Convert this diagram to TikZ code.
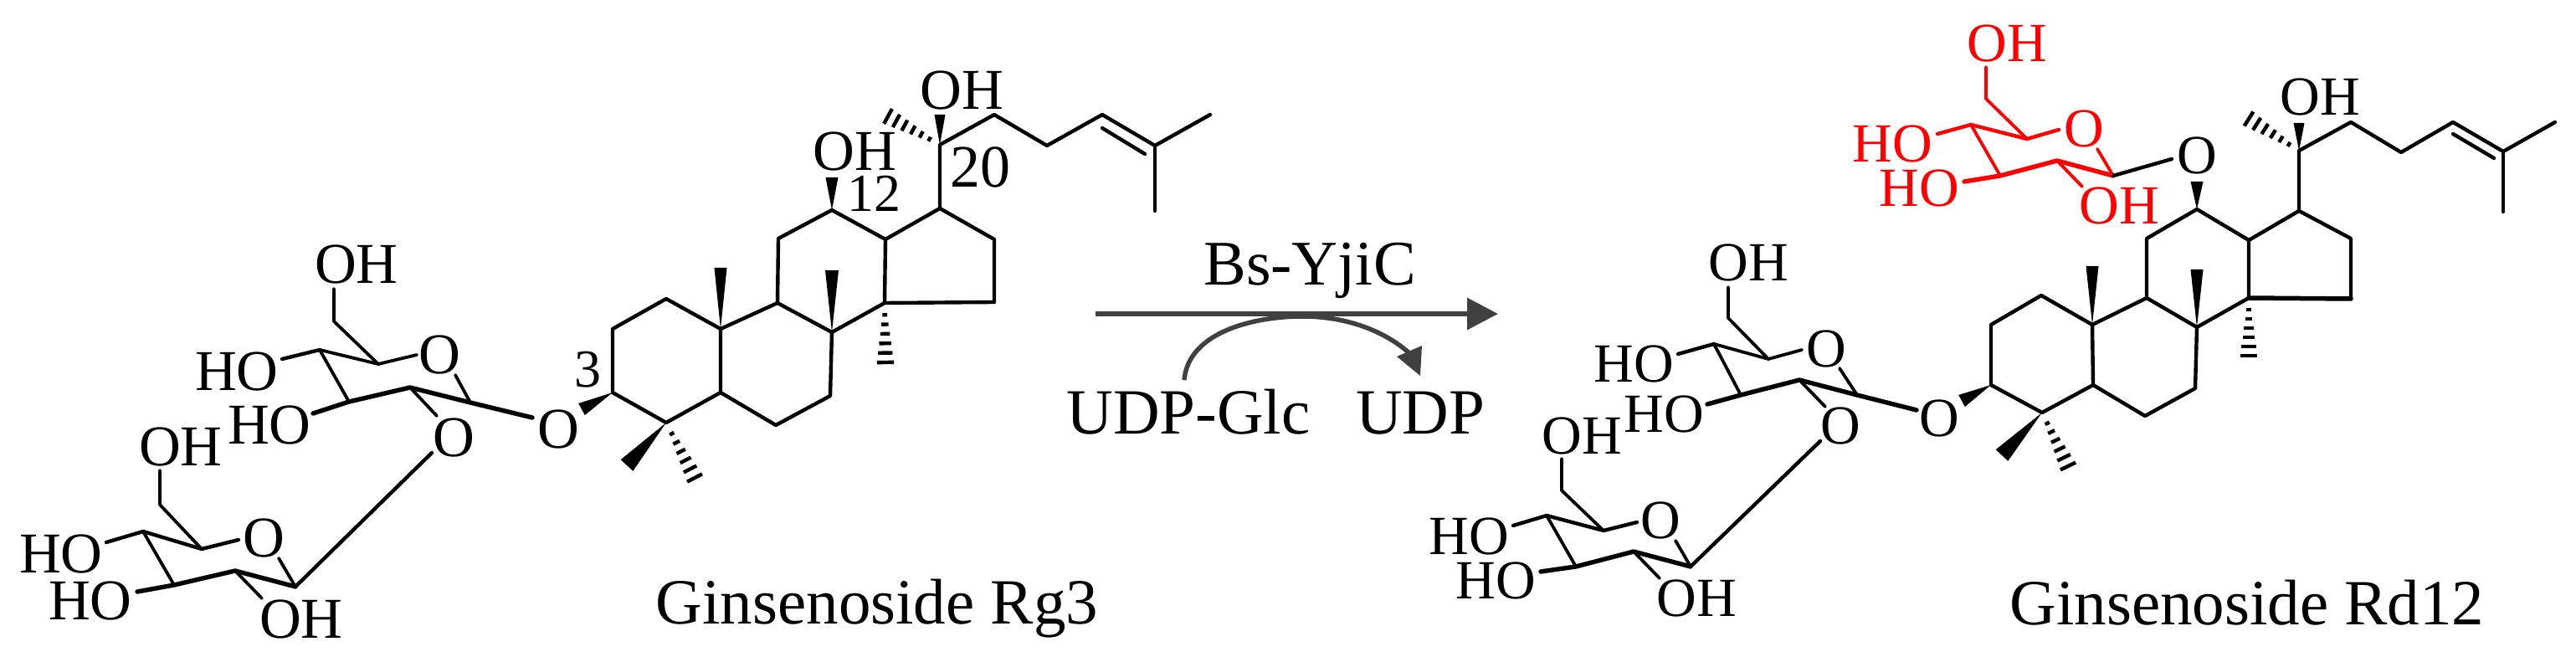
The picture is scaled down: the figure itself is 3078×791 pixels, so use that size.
\documentclass[tikz,border=0pt]{standalone}
\usepackage{fontspec}
\setmainfont{Liberation Serif}
\usetikzlibrary{calc,arrows.meta}
\definecolor{arrowgrey}{HTML}{404040}
\definecolor{sugarred}{HTML}{FF0000}
\tikzset{
  x=1pt,y=-1pt,
  bondline/.style={line width=4.4pt,line join=round,line cap=round},
  thinbond/.style={line width=3.8pt,line join=round,line cap=round},
  frontbond/.style={line width=5.4pt,line join=round,line cap=round},
  atomL/.style={anchor=base,inner sep=0pt,font=\fontsize{69}{80}\selectfont},
  atomR/.style={anchor=base,inner sep=0pt,font=\fontsize{66}{76}\selectfont},
  numlabel/.style={anchor=base,inner sep=0pt,font=\fontsize{64}{74}\selectfont},
  caption/.style={anchor=base,inner sep=0pt,font=\fontsize{77}{88}\selectfont},
  arrowline/.style={draw=arrowgrey,line width=6.5pt},
}
\newcommand{\wedgebond}[3]{\fill ($(#1)$) -- ($(#2)!#3!90:(#1)$) -- ($(#2)!#3!-90:(#1)$) -- cycle;}
\newcommand{\hashbond}[3]{%
  \foreach \t in {0.2,0.36,0.52,0.68,0.84,1.0}{%
    \pgfmathsetmacro{\halfw}{#3*(\t+0.12)}
    \coordinate (hp) at ($(#1)!\t!(#2)$);
    \draw[line width=4.4pt] ($(hp)!\halfw pt!90:(#1)$) -- ($(hp)!\halfw pt!-90:(#1)$);
  }}
\newcommand{\pts}[1]{\foreach \n/\xx/\yy in {#1}{\coordinate (\n) at (\xx,\yy);}}
\begin{document}
\begin{tikzpicture}
\useasboundingbox (0,0) rectangle (3078,791);

%% ---------- LEFT MOLECULE ----------
\pts{La/382/418,Lb/452/435,Lc/562/481,Ld/490/463,Le/417/480,Lf/399/384,Lg/399/345,
 LaH/337/429,LeH/374/494,LbO/498/424,LOc/544/448,LdO/522/497,LcO/636/499,
 Ma/171/635,Mb/241/656,Mc/353/701,Md/281/682,Me/208/699,Mf/191/603,Mg/191/562,
 MaH/127/648,MeH/164/707,MdH/313/715,MbO/285/645,MOc/333/667,MO2/516/541,
 C1/796/357,C2/732/393,C3/732/469,C4/796/505,C5/861/469,C6/927/508,C7/992/473,C8/994/397,
 C9/929/362,C10/861/393,C11/930/285,C12/994/251,C13/1058/286,C14/1057/362,C15/1188/361,
 C16/1188/286,C17/1123/249,C20/1123/173,C22/1188/137,C23/1251/174,C24/1317/137,C25/1380/174,
 C26/1446/137,C27/1380/252,Dbl1/1317/153,Dbl2/1368/184,
 W3/695/489,W4/749/556,H4/830/571,W10/861/320,W8/994/323,W12/994/212,H14/1058/433,
 W20/1123/137,H20/1061/139}

\node[atomL] (lo1) at (426,339) {OH};
\node[atomL] (lh1) at (283,466) {HO};
\node[atomL] (lh2) at (322,530) {HO};
\node[atomL] (lo2) at (525,446) {O};
\node[atomL] (lo3) at (542,545) {O};
\node[atomL] (lo4) at (667,535) {O};
\node[atomL] (lo5) at (216,556) {OH};
\node[atomL] (lh3) at (73,684) {HO};
\node[atomL] (lh4) at (108,740) {HO};
\node[atomL] (lo6) at (360,762) {OH};
\node[atomL] (lo7) at (315,665) {O};
\node[atomL] (lo8) at (1021,204) {OH};
\node[atomL] (lo9) at (1149,131) {OH};
\node[numlabel] (n3) at (702,462) {3};
\node[numlabel] (n12) at (1044,253) {12};
\node[numlabel,font=\fontsize{72}{80}\selectfont] (n20) at (1171,224) {20};

\draw[thinbond] (Lg) -- (Lf) -- (Lb);
\draw[thinbond] (La) -- (Lb) -- (LbO);
\draw[thinbond] (La) -- (Le);
\draw[bondline] (LaH) -- (La);
\draw[frontbond] (LeH) -- (Le) -- (Ld) -- (Lc) -- (LcO);
\draw[thinbond] (LOc) -- (Lc);
\draw[thinbond] (Ld) -- (LdO);

\draw[thinbond] (Mg) -- (Mf) -- (Mb);
\draw[bondline] (Ma) -- (Mb) -- (MbO);
\draw[thinbond] (Ma) -- (Me);
\draw[bondline] (MaH) -- (Ma);
\draw[frontbond] (MeH) -- (Me) -- (Md) -- (Mc);
\draw[thinbond] (MOc) -- (Mc);
\draw[thinbond] (Md) -- (MdH);
\draw[bondline] (Mc) -- (MO2);

\draw[bondline] (C3) -- (C2) -- (C1) -- (C10) -- (C5) -- (C4) -- (C3);
\draw[bondline] (C5) -- (C6) -- (C7) -- (C8) -- (C9) -- (C10);
\draw[bondline] (C9) -- (C11) -- (C12) -- (C13) -- (C14) -- (C8);
\draw[bondline] (C13) -- (C17) -- (C16) -- (C15) -- (C14);
\draw[bondline] (C17) -- (C20) -- (C22) -- (C23) -- (C24) -- (C25) -- (C26);
\draw[bondline] (C25) -- (C27);
\draw[bondline] (Dbl1) -- (Dbl2);

\wedgebond{C3}{W3}{8pt}
\wedgebond{C4}{W4}{10pt}
\hashbond{C4}{H4}{9}
\wedgebond{C10}{W10}{7.5pt}
\wedgebond{C8}{W8}{8pt}
\wedgebond{C12}{W12}{7.5pt}
\wedgebond{C20}{W20}{6.5pt}
\hashbond{C14}{H14}{9}
\hashbond{C20}{H20}{9}

%% ---------- ARROWS ----------
\pts{Ar1/1309/375,Ar2/1790/375,Cv1/1415/454,CvT/1556/378,Cc3/1610/378,Cc4/1655/396,Cv2/1684/422,
 Hd1/1699/413,Hd2/1669/426,Hd3/1697/449}
\draw[arrowline,-{Triangle[length=37pt,width=37pt]}] (Ar1) -- (Ar2);
\draw[draw=arrowgrey,line width=5.5pt] (Cv1) .. controls (1420,396) and (1500,378) .. (CvT) .. controls (Cc3) and (Cc4) .. (Cv2);
\fill[arrowgrey] (Hd1) -- (Hd2) -- (Hd3) -- cycle;
\node[caption,font=\fontsize{76}{88}\selectfont] (enz) at (1565,341) {Bs-YjiC};
\node[caption] (udpg) at (1420,518) {UDP-Glc};
\node[caption] (udp) at (1697,518) {UDP};
\node[caption] (rg3) at (1048,745) {Ginsenoside Rg3};
\node[caption] (rd12) at (2685,746) {Ginsenoside Rd12};

%% ---------- RIGHT MOLECULE ----------
\pts{Ra/2048/411,Rb/2113/429,Rc/2219/472,Rd/2150/454,Re/2080/472,Rf/2065/380,Rg/2065/343,
 RaH/2005/423,ReH/2040/483,RbO/2153/418,ROc/2198/440,RdO/2181/486,RcO/2290/490,
 Sa/1848/616,Sb/1916/634,Sc/2020/677,Sd/1952/659,Se/1883/677,Sf/1866/586,Sg/1866/548,
 SaH/1808/628,SeH/1841/683,SdH/1983/691,SbO/1956/624,SOc/2002/646,SO2/2175/527,
 Ta/2355/149,Tb/2422/166,Tc/2525/210,Td/2458/192,Te/2390/210,Tf/2373/118,Tg/2373/80,
 TaH/2315/160,TeH/2347/217,TbO/2460/155,TOc/2506/178,TdH/2488/223,TcO/2595/190,
 D1/2439/353,D2/2379/388,D3/2379/460,D4/2440/493,D5/2501/460,D6/2563/497,D7/2623/464,D8/2625/391,
 D9/2565/356,D10/2500/388,D11/2565/285,D12/2625/250,D13/2687/287,D14/2687/356,D15/2809/357,
 D16/2809/285,D17/2747/252,D20/2747/180,D22/2809/146,D23/2869/182,D24/2931/146,D25/2991/181,
 D26/3053/146,D27/2991/253,Dd1/2931/160,Dd2/2980/189,
 X3/2344/479,X4/2392/544,Y4/2471/557,X10/2500/318,X8/2625/322,X12/2625/217,Y14/2687/425,
 X20/2747/147,Y20/2687/142}

\node[atomR] (ro1) at (2089,336) {OH};
\node[atomR] (rh1) at (1952,456) {HO};
\node[atomR] (rh2) at (1988,516) {HO};
\node[atomR] (ro2) at (2182,438) {O};
\node[atomR] (ro3) at (2199,530) {O};
\node[atomR] (ro4) at (2317,521) {O};
\node[atomR] (ro5) at (1890,542) {OH};
\node[atomR] (rh3) at (1755,662) {HO};
\node[atomR] (rh4) at (1787,715) {HO};
\node[atomR] (ro6) at (2027,736) {OH};
\node[atomR] (ro7) at (1984,643) {O};
\node[atomR] (ro8) at (2625,208) {O};
\node[atomR] (ro9) at (2772,138) {OH};
\begin{scope}[sugarred]
\node[atomR] (tr1) at (2398,74) {OH};
\node[atomR] (tr2) at (2261,194) {HO};
\node[atomR] (tr3) at (2293,247) {HO};
\node[atomR] (tr4) at (2490,176) {O};
\node[atomR] (tr5) at (2532,268) {OH};
\end{scope}

\draw[thinbond] (Rg) -- (Rf) -- (Rb);
\draw[thinbond] (Ra) -- (Rb) -- (RbO);
\draw[thinbond] (Ra) -- (Re);
\draw[bondline] (RaH) -- (Ra);
\draw[frontbond] (ReH) -- (Re) -- (Rd) -- (Rc) -- (RcO);
\draw[thinbond] (ROc) -- (Rc);
\draw[thinbond] (Rd) -- (RdO);

\draw[thinbond] (Sg) -- (Sf) -- (Sb);
\draw[bondline] (Sa) -- (Sb) -- (SbO);
\draw[thinbond] (Sa) -- (Se);
\draw[bondline] (SaH) -- (Sa);
\draw[frontbond] (SeH) -- (Se) -- (Sd) -- (Sc);
\draw[thinbond] (SOc) -- (Sc);
\draw[thinbond] (Sd) -- (SdH);
\draw[bondline] (Sc) -- (SO2);

\begin{scope}[sugarred]
\draw[thinbond] (Tg) -- (Tf) -- (Tb);
\draw[bondline] (Ta) -- (Tb) -- (TbO);
\draw[thinbond] (Ta) -- (Te);
\draw[bondline] (TaH) -- (Ta);
\draw[frontbond] (TeH) -- (Te) -- (Td) -- (Tc);
\draw[thinbond] (TOc) -- (Tc);
\draw[thinbond] (Td) -- (TdH);
\end{scope}
\draw[bondline] (Tc) -- (TcO);

\draw[bondline] (D3) -- (D2) -- (D1) -- (D10) -- (D5) -- (D4) -- (D3);
\draw[bondline] (D5) -- (D6) -- (D7) -- (D8) -- (D9) -- (D10);
\draw[bondline] (D9) -- (D11) -- (D12) -- (D13) -- (D14) -- (D8);
\draw[bondline] (D13) -- (D17) -- (D16) -- (D15);
\draw[line width=5.5pt,line cap=round] (D14) -- (D15);
\draw[bondline] (D17) -- (D20) -- (D22) -- (D23) -- (D24) -- (D25) -- (D26);
\draw[bondline] (D25) -- (D27);
\draw[bondline] (Dd1) -- (Dd2);

\wedgebond{D3}{X3}{8pt}
\wedgebond{D4}{X4}{10pt}
\hashbond{D4}{Y4}{9}
\wedgebond{D10}{X10}{7.5pt}
\wedgebond{D8}{X8}{7.5pt}
\wedgebond{D12}{X12}{7.5pt}
\wedgebond{D20}{X20}{6.5pt}
\hashbond{D14}{Y14}{9}
\hashbond{D20}{Y20}{9}
\end{tikzpicture}
\end{document}
